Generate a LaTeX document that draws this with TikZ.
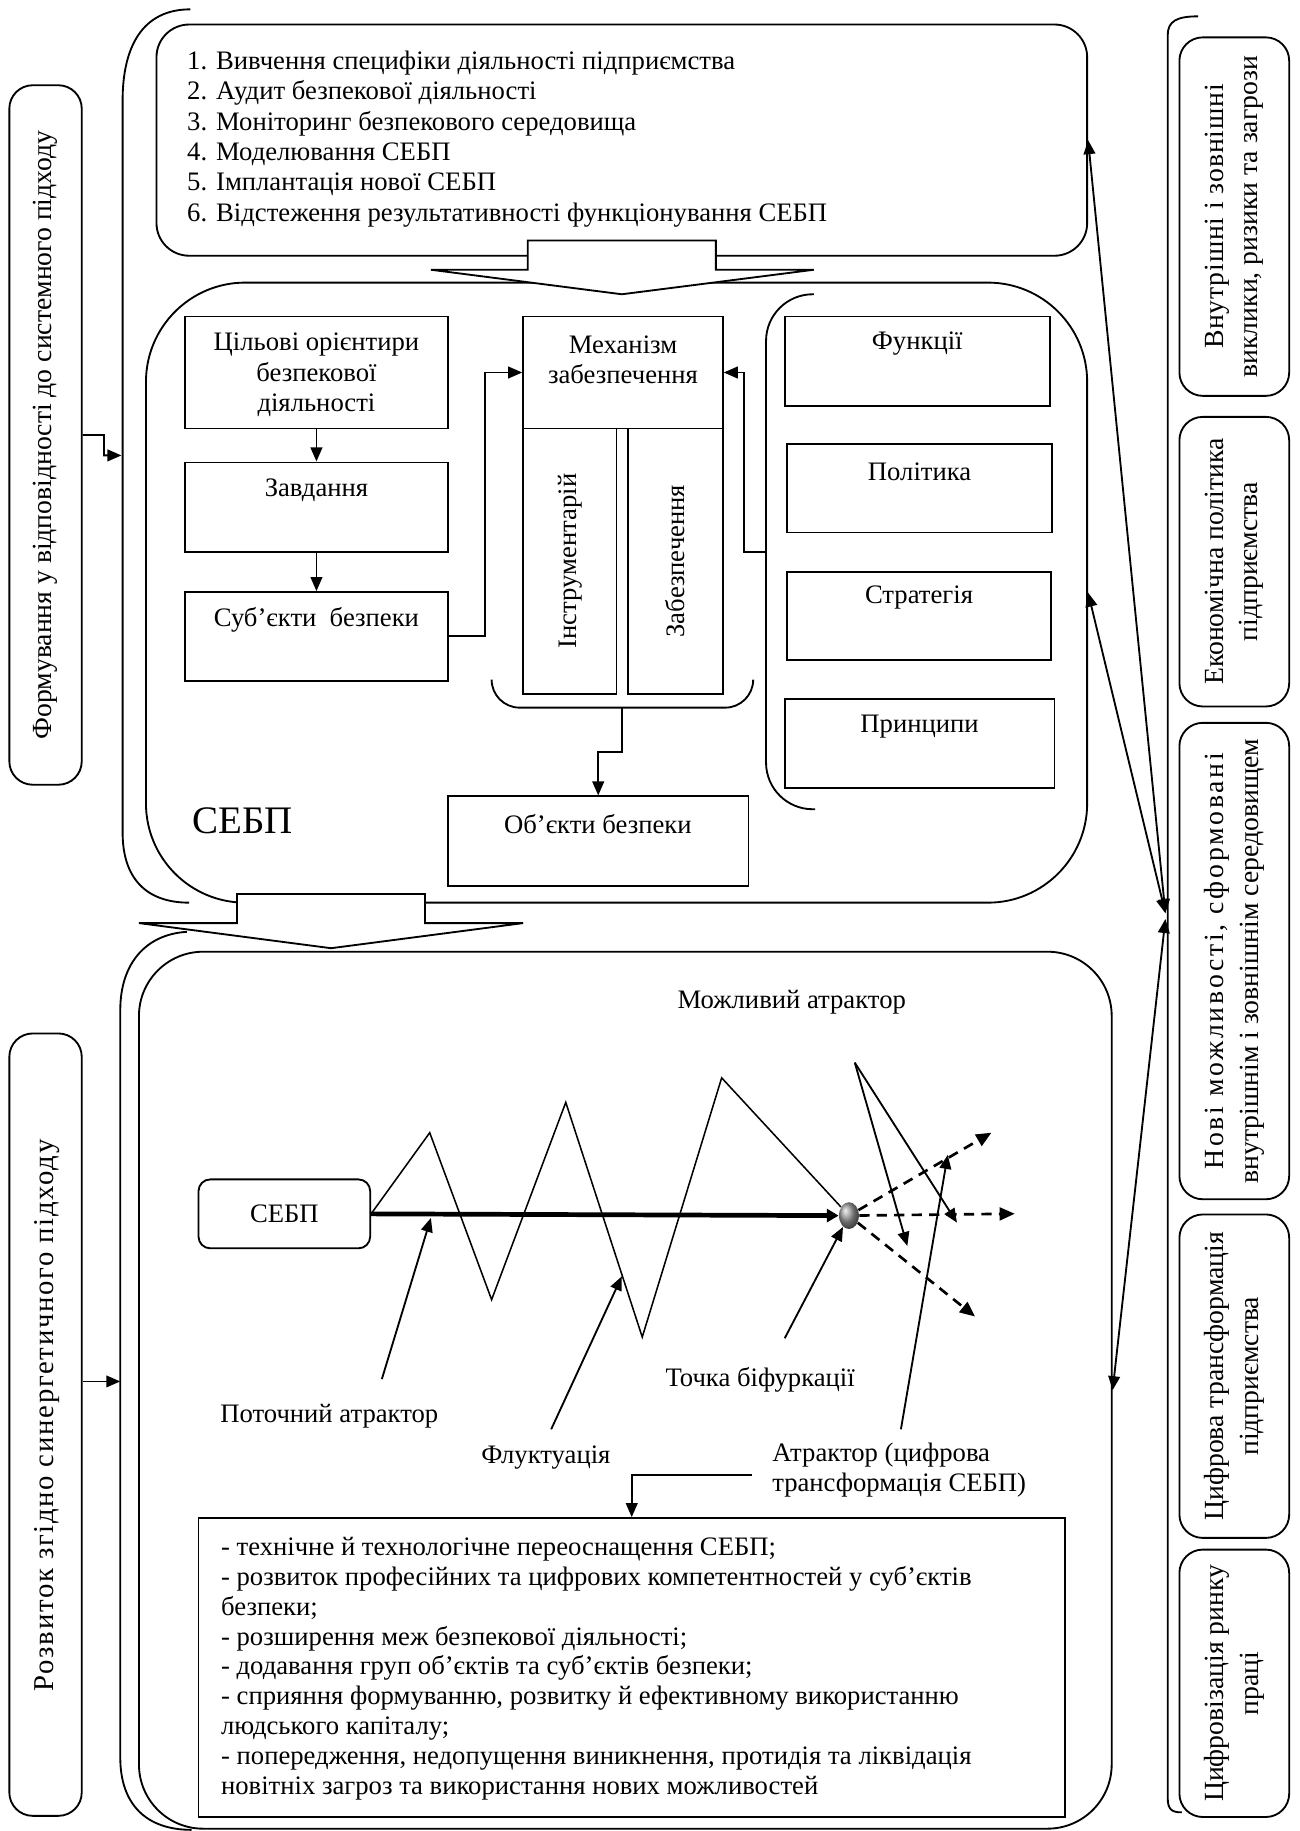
\documentclass[tikz,border=0pt]{standalone}
\usepackage{fontspec}
\setmainfont{Liberation Serif}
\usetikzlibrary{arrows.meta,fit,shapes.geometric}
\begin{document}
\begin{tikzpicture}[x=0.02cm,y=-0.02cm,
  every node/.style={inner sep=0pt, font=\fontsize{13}{14.8}\selectfont},
  lw/.style={line width=0.9pt},
  box/.style={draw, lw, inner sep=0pt},
  rbox/.style={draw, lw, inner sep=0pt, rounded corners=0.4cm},
  arr/.style={lw, -{Triangle[length=0.24cm,width=0.2cm]}},
  darr/.style={lw, {Triangle[length=0.24cm,width=0.2cm]}-{Triangle[length=0.24cm,width=0.2cm]}},
  dsh/.style={line width=1.3pt, dash pattern=on 5pt off 3.5pt, -{Triangle[length=0.26cm,width=0.22cm]}},
  vt/.style={rotate=90, align=center, font=\fontsize{13.5}{17}\selectfont},
  blk/.style={draw, lw, fill=white, line join=miter},
]
\useasboundingbox (0,0) rectangle (1113,1568);

% ---------- left column ----------
\node[rbox, fit={(8,73) (70,672)}] (fa) {};
\node[vt] (fat) at (fa.center) {Формування у відповідності до системного підходу};
\node[rbox, fit={(8,885) (70,1555)}] (fb) {};
\node[vt, font=\fontsize{14}{17}\selectfont] (fbt) at (40,1212) {\addfontfeature{LetterSpace=6}Розвиток згідно синергетичного підходу};

% big left brackets
\draw[lw] (163,8) .. controls (122,8) and (105,40) .. (105,86) -- (105,713)
  .. controls (105,752) and (125,773) .. (162,773);
\draw[lw] (160,798) .. controls (125,800) and (103,825) .. (103,865) -- (103,1505)
  .. controls (103,1545) and (125,1567) .. (164,1567);

\coordinate (ua) at (104,390);
\coordinate (la) at (103,1183);
\draw[arr] (fa.east) -- (89,372.5) |- (ua);
\draw[arr] (fa.east |- la) -- (la);

% ---------- right column ----------
\draw[lw] (1026,14) .. controls (1008,14) and (1000,18) .. (1000,30) -- (1000,1540)
  .. controls (1000,1550) and (1004,1552) .. (1012,1552);
\node[rbox, fit={(1010,32) (1104,339)}] (r1) {};
\node[vt] (r1t) at (r1.center) {{\addfontfeature{LetterSpace=3}Внутрішні і зовнішні}\\виклики, ризики та загрози};
\node[rbox, fit={(1010,357) (1104,605)}] (r2) {};
\node[vt] (r2t) at (r2.center) {Економічна політика\\підприємства};
\node[rbox, fit={(1010,619) (1104,1027)}] (r3) {};
\node[vt] (r3t) at (r3.center) {{\addfontfeature{LetterSpace=10}Нові можливості, сформовані}\\внутрішнім і зовнішнім середовищем};
\node[rbox, fit={(1010,1040) (1104,1317)}] (r4) {};
\node[vt] (r4t) at (r4.center) {Цифрова трансформація\\підприємства};
\node[rbox, fit={(1010,1327) (1104,1556)}] (r5) {};
\node[vt] (r5t) at (r5.center) {Цифровізація ринку\\праці};

% ---------- top box ----------
\node[draw, lw, inner sep=0pt, rounded corners=0.56cm, fit={(134,21) (931,219)}] (top) {};
\node[anchor=west, align=left] (list) at (160,119) {1. Вивчення специфіки діяльності підприємства\\
2. Аудит безпекової діяльності\\
3. Моніторинг безпекового середовища\\
4. Моделювання СЕБП\\
5. Імплантація нової СЕБП\\
6. Відстеження результативності функціонування СЕБП};

% ---------- middle box ----------
\node[draw, lw, inner sep=0pt, rounded corners=1.7cm, fit={(125,242) (931,773)}] (mid) {};
% ---------- bottom box ----------
\node[draw, lw, inner sep=0pt, rounded corners=1.1cm, fit={(119,815) (952,1566)}] (bot) {};

% block arrows
\draw[blk] (452,206) -- (613,206) -- (613,231) -- (697,231) -- (532.5,252) -- (369,231) -- (452,231) -- cycle;
\draw[blk] (203,765.6) -- (364,765.6) -- (364,790.5) -- (448,790.5) -- (283.5,812) -- (119,790.5) -- (203,790.5) -- cycle;

% inner content of middle box
\node[box, fit={(158.5,271) (383.5,367)}] (goal) {};
\node[align=center] (goalt) at (271,321) {Цільові орієнтири\\безпекової\\діяльності};
\node[box, fit={(158.5,396) (383.5,472.6)}] (task) {};
\node (taskt) at (271,419.5) {Завдання};
\node[box, fit={(158.5,507) (383.5,583)}] (subj) {};
\node (subjt) at (271,531) {Суб’єкти\ \ безпеки};
\node[box, fit={(448,271) (619,367)}] (mech) {};
\node[align=center] (mecht) at (533.5,308) {Механізм\\забезпечення};
\node[box, fit={(448,367) (528,594)}] (inst) {};
\node[rotate=90] (instt) at (inst.center) {Інструментарій};
\node[box, fit={(537.6,367) (619,594)}] (zab) {};
\node[rotate=90] (zabt) at (zab.center) {Забезпечення};
\node[box, fit={(383.6,682) (641,758.5)}] (obj) {};
\node (objt) at (512,706) {Об’єкти безпеки};
\node[box, fit={(672,271) (899,347.6)}] (fun) {};
\node (funt) at (785.5,294.5) {Функції};
\node[box, fit={(674,380) (901,456)}] (pol) {};
\node (polt) at (787.5,404) {Політика};
\node[box, fit={(674,489.5) (900,565)}] (str) {};
\node (strt) at (787,512) {Стратегія};
\node[box, fit={(672,598.5) (903,674.5)}] (pri) {};
\node (prit) at (787.5,622) {Принципи};
\node[font=\fontsize{19}{20}\selectfont] (sebp) at (208,703) {СЕБП};

% brackets inside middle box
\draw[lw, rounded corners=0.48cm] (421,582) -- (421,606) -- (645,606) -- (645,582);
\draw[lw, rounded corners=0.8cm] (697,252) -- (656,252) -- (656,693) -- (698,693);
\coordinate (tb) at (533,606);
\coordinate (fb0) at (656,473);

\draw[arr] (goal.south) -- (task.north);
\draw[arr] (task.south) -- (subj.north);
\draw[arr] (subj.east) -- (415,545) |- (mech.west);
\draw[arr] (fb0) -- (637,473) |- (mech.east);
\draw[arr] (tb) -- (533,644) -| (obj.north);

% arrows from right bracket
\coordinate (cv1) at (998,782);
\coordinate (cv2) at (998,787);
\draw[darr] (cv1) -- (top.east);
\draw[darr] (cv1) -- (mid.east);
\draw[darr] (cv2) -- (bot.east);

% ---------- bottom box content ----------
\node (poss) at (678,858) {Можливий атрактор};
\node[draw, lw, rounded corners=0.2cm, fit={(170,1010) (317,1069)}] (sb) {};
\node (sbt) at (sb.center) {СЕБП};
\node[ellipse, minimum width=0.34cm, minimum height=0.46cm, ball color=gray!80] (ball) at (727,1041) {};

\draw[line width=0.75pt] (sb.east) -- (368,970) -- (421,1113) -- (484.5,944) -- (550,1145) -- (618,923) -- (ball);
\draw[line width=2.3pt, -{Triangle[length=0.2cm,width=0.22cm]}] (sb.east) -- (ball.west);

\coordinate (a1s) at (327,1181); \coordinate (a1e) at (369,1043);
\coordinate (a2s) at (472,1224); \coordinate (a2e) at (532.5,1093);
\coordinate (a3s) at (672,1146);
\coordinate (a4s) at (771.5,1224); \coordinate (a4e) at (811.6,989);
\coordinate (ft) at (732,910);
\coordinate (f1e) at (777,1067); \coordinate (f2e) at (819.5,1047);
\coordinate (d1e) at (849,970); \coordinate (d2e) at (869,1039.4); \coordinate (d3e) at (835,1127.4);

\draw[arr] (a1s) -- (a1e);
\draw[arr] (a2s) -- (a2e);
\draw[arr] (a3s) -- (ball);
\draw[arr] (a4s) -- (a4e);
\draw[arr] (ft) -- (f1e);
\draw[arr] (ft) -- (f2e);
\draw[dsh] (ball) -- (d1e);
\draw[dsh] (ball) -- (d2e);
\draw[dsh] (ball) -- (d3e);

\node (curt) at (282,1213) {Поточний атрактор};
\node (flt) at (467.5,1248.5) {Флуктуація};
\node (bift) at (651,1181.5) {Точка біфуркації};
\node[anchor=west, align=left, font=\fontsize{13}{14.5}\selectfont] (att) at (661,1259) {Атрактор (цифрова\\трансформація СЕБП)};

\node[box, fit={(170,1300) (912,1556)}] (lst) {};
\node[anchor=west, align=left, font=\fontsize{13}{14.6}\selectfont] (lstt) at (189,1429) {- технічне й технологічне переоснащення СЕБП;\\
- розвиток професійних та цифрових компетентностей у суб’єктів\\
безпеки;\\
- розширення меж безпекової діяльності;\\
- додавання груп об’єктів та суб’єктів безпеки;\\
- сприяння формуванню, розвитку й ефективному використанню\\
людського капіталу;\\
- попередження, недопущення виникнення, протидія та ліквідація\\
новітніх загроз та використання нових можливостей};

\coordinate (cat) at (644,1263);
\draw[arr] (cat) -| (lst.north);
\end{tikzpicture}
\end{document}
